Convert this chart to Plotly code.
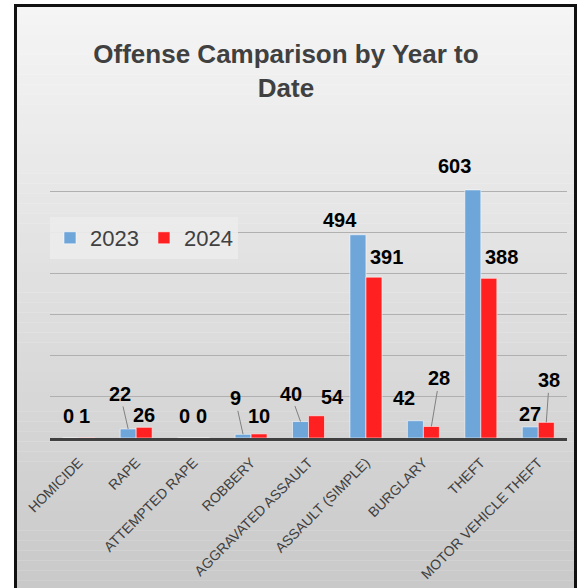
import plotly.graph_objects as go

# --- data ---
categories = ["HOMICIDE", "RAPE", "ATTEMPTED RAPE", "ROBBERY", "AGGRAVATED ASSAULT",
              "ASSAULT (SIMPLE)", "BURGLARY", "THEFT", "MOTOR VEHICLE THEFT"]
y2023 = [0, 22, 0, 9, 40, 494, 42, 603, 27]
y2024 = [1, 26, 0, 10, 54, 391, 28, 388, 38]

# label placement (px offset from bar top, leader line?)
lab2023 = [(-2, -22, False), (-8, -35, True), (-1, -22, False), (-8, -36, True),
           (-10, -28, True), (-18, -15, False), (-11, -23, False), (-18, -24, False),
           (0, -13, False)]
lab2024 = [(-2, -22, False), (0, -12, False), (0, -22, False), (0, -18, False),
           (16, -19, False), (13, -20, False), (8, -48, True), (13, -21, False),
           (3, -42, True)]

W, H = 584, 588
L, R, T, B = 50, 17, 150, 150
pw, ph = W - L - R, H - T - B
bargap = 0.443
off = (1 - bargap) / 4

def px(x):
    return (x - L) / pw

def py(y):
    return (H - B - y) / ph

fig = go.Figure()
fig.add_trace(go.Bar(name="2023", x=categories, y=y2023,
                     marker=dict(color="#6FA6DA", line=dict(color="rgba(255,255,255,0.55)", width=1))))
fig.add_trace(go.Bar(name="2024", x=categories, y=y2024,
                     marker=dict(color="#FF2121", line=dict(color="rgba(255,255,255,0.55)", width=1))))

# data labels
ann = []
for vals, labs, shift in [(y2023, lab2023, -off), (y2024, lab2024, off)]:
    for i, (v, (dx, dy, lead)) in enumerate(zip(vals, labs)):
        ann.append(dict(x=i + shift, y=v, xref="x", yref="y", text=str(v),
                        showarrow=True, ax=dx, ay=dy, arrowhead=0, arrowwidth=1,
                        standoff=0, startstandoff=0,
                        arrowcolor="#808080" if lead else "rgba(0,0,0,0)",
                        font=dict(size=20, color="black", weight="bold",
                                  family="Liberation Sans, Arial")))

# gradient background inside the frame
shapes = []
n = 60
top, bot = 5, 600
for k in range(n):
    y0 = top + (bot - top) * k / n
    y1 = top + (bot - top) * (k + 1) / n
    g = int(round(245 - 45 * (k + 0.5) / n))
    shapes.append(dict(type="rect", xref="paper", yref="paper", layer="below",
                       x0=px(15), x1=px(575), y0=py(y0), y1=py(y1) - 0.001,
                       fillcolor=f"rgb({g},{g},{g})", line=dict(width=0)))
# frame (left, top, right edges)
frame = dict(color="#111111", width=3)
for x0, y0, x1, y1 in [(15.5, 5.5, 15.5, 600), (14, 5.5, 577, 5.5), (575.5, 4, 575.5, 600)]:
    shapes.append(dict(type="line", xref="paper", yref="paper", layer="above",
                       x0=px(x0), x1=px(x1), y0=py(y0), y1=py(y1), line=frame))

fig.update_layout(
    width=W, height=H,
    margin=dict(l=L, r=R, t=T, b=B, autoexpand=False),
    paper_bgcolor="white",
    plot_bgcolor="rgba(0,0,0,0)",
    barmode="group", bargap=bargap, bargroupgap=0,
    font=dict(family="Liberation Sans, Arial", color="#404040"),
    title=dict(text="<b>Offense Camparison by Year to<br>Date</b>",
               x=286 / W, xanchor="center", xref="container",
               y=1 - 63 / H, yanchor="top", yref="container",
               font=dict(size=26, color="#404040")),
    legend=dict(orientation="h", x=0, xanchor="left", y=py(217), yanchor="top",
                bgcolor="rgba(236,236,236,0.92)", font=dict(size=22, color="#404040"),
                itemwidth=30, tracegroupgap=0),
    shapes=shapes,
    annotations=ann,
    xaxis=dict(showline=True, linecolor="#404040", linewidth=3, automargin=False,
               tickangle=-45, tickfont=dict(size=14, color="#404040"),
               ticks="outside", ticklen=8, tickcolor="rgba(0,0,0,0)",
               showgrid=False),
    yaxis=dict(range=[0, 700], dtick=100, showticklabels=False, automargin=False,
               showgrid=True, gridcolor="#b0b0b0", gridwidth=1.3,
               zeroline=False, showline=False),
)

fig.write_html("out.html", config={"displayModeBar": False},
               post_script="document.body.style.margin='0';"
                           "document.documentElement.style.overflow='hidden';"
                           "document.body.style.overflow='hidden';")
